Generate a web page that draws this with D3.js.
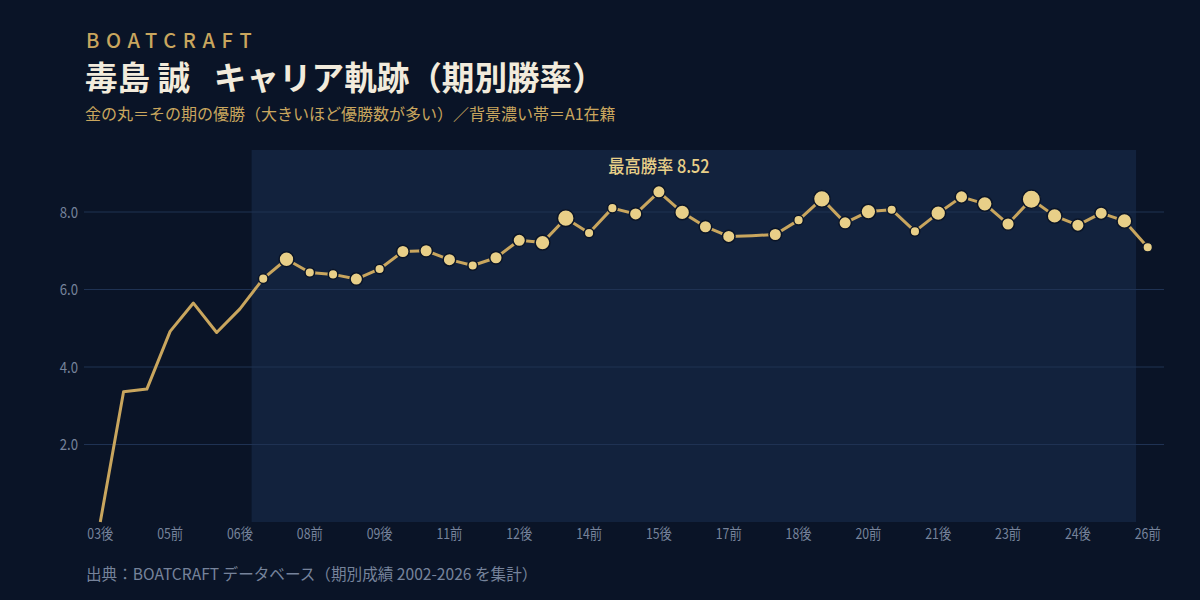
<!DOCTYPE html>
<html>
<head>
<meta charset="utf-8">
<script src="https://cdn.jsdelivr.net/npm/d3@7"></script>
<style>
  html, body { margin: 0; padding: 0; background: #0a1427; }
  svg { display: block; }
  text { font-family: "Noto Sans CJK JP", "Noto Sans", sans-serif; }
</style>
</head>
<body>
<svg id="drawing_region"></svg>
<script>
// 期 (half-year periods), 03後 .. 26前
const periods = ["03後","04前","04後","05前","05後","06前","06後","07前","07後","08前",
                 "08後","09前","09後","10前","10後","11前","11後","12前","12後","13前",
                 "13後","14前","14後","15前","15後","16前","16後","17前","17後","18前",
                 "18後","19前","19後","20前","20後","21前","21後","22前","22後","23前",
                 "23後","24前","24後","25前","25後","26前"];
// 勝率
const winRate = [0.00, 3.36, 3.43, 4.92, 5.65, 4.89, 5.50, 6.28, 6.78, 6.44,
                 6.39, 6.27, 6.53, 6.98, 7.00, 6.77, 6.62, 6.82, 7.27, 7.21,
                 7.84, 7.46, 8.10, 7.95, 8.52, 7.99, 7.62, 7.37, 7.39, 7.42,
                 7.79, 8.34, 7.72, 8.01, 8.06, 7.50, 7.97, 8.39, 8.21, 7.69,
                 8.33, 7.90, 7.66, 7.97, 7.77, 7.09];
// 優勝回数
const titles  = [0, 0, 0, 0, 0, 0, 0, 1, 3, 1,
                 1, 2, 1, 2, 2, 2, 1, 2, 2, 3,
                 4, 1, 1, 2, 2, 3, 2, 2, 0, 2,
                 1, 4, 2, 3, 1, 1, 3, 2, 3, 2,
                 5, 3, 2, 2, 3, 1];
// A1在籍期間
const a1Range = ["07前", "25後"];
const yTicks = [2, 4, 6, 8];
const xTickLabels = ["03後","05前","06後","08前","09後","11前","12後","14前",
                     "15後","17前","18後","20前","21後","23前","24後","26前"];

const data = periods.map((p, i) => ({period: p, rate: winRate[i], wins: titles[i]}));

const width = 1200, height = 600;
const margin = {top: 150, right: 36, bottom: 78, left: 84};

const svg = d3.select("#drawing_region")
    .attr("width", width)
    .attr("height", height);

svg.append("rect")
    .attr("width", width)
    .attr("height", height)
    .attr("fill", "#0a1427");

const x = d3.scalePoint()
    .domain(periods)
    .range([margin.left, width - margin.right])
    .padding(0.7);

const y = d3.scaleLinear()
    .domain([0, 9.6])
    .range([height - margin.bottom, margin.top]);

const r = d3.scaleSqrt()
    .domain([1, 5])
    .range([4.8, 9.2]);

// A1 band
const step = x.step();
svg.append("rect")
    .attr("x", x(a1Range[0]) - step / 2)
    .attr("y", margin.top)
    .attr("width", x(a1Range[1]) - x(a1Range[0]) + step)
    .attr("height", height - margin.bottom - margin.top)
    .attr("fill", "#12223d");

// grid
svg.append("g")
    .selectAll("line")
    .data(yTicks)
    .join("line")
    .attr("x1", margin.left)
    .attr("x2", width - margin.right)
    .attr("y1", d => y(d))
    .attr("y2", d => y(d))
    .attr("stroke", "#1f3253")
    .attr("stroke-width", 1);

// y labels
svg.append("g")
    .selectAll("text")
    .data(yTicks)
    .join("text")
    .attr("transform", d => `translate(78,${y(d) + 5.5}) scale(0.85,1)`)
    .attr("text-anchor", "end")
    .attr("font-size", 15.5)
    .attr("fill", "#76839b")
    .text(d => d.toFixed(1));

// x labels
svg.append("g")
    .selectAll("text")
    .data(xTickLabels)
    .join("text")
    .attr("transform", d => `translate(${x(d)},${height - margin.bottom + 17}) scale(0.82,1)`)
    .attr("text-anchor", "middle")
    .attr("font-size", 15)
    .attr("fill", "#76839b")
    .text(d => d);

// line
const line = d3.line()
    .x(d => x(d.period))
    .y(d => y(d.rate));

svg.append("path")
    .datum(data)
    .attr("d", line)
    .attr("fill", "none")
    .attr("stroke", "#c9a65e")
    .attr("stroke-width", 3)
    .attr("stroke-linejoin", "round");

// 優勝 circles
svg.append("g")
    .selectAll("circle")
    .data(data.filter(d => d.wins > 0))
    .join("circle")
    .attr("cx", d => x(d.period))
    .attr("cy", d => y(d.rate))
    .attr("r", d => r(d.wins))
    .attr("fill", "#e8cf88")
    .attr("stroke", "#0a1427")
    .attr("stroke-width", 1.5);

// best annotation
const best = data.reduce((a, b) => (b.rate > a.rate ? b : a));
svg.append("text")
    .attr("transform", `translate(${x(best.period)},${y(best.rate) - 19}) scale(0.88,1)`)
    .attr("text-anchor", "middle")
    .attr("font-size", 18.5)
    .attr("font-weight", 500)
    .attr("fill", "#e8cf88")
    .text(`最高勝率 ${best.rate.toFixed(2)}`);

// titles
svg.append("text")
    .attr("x", 86)
    .attr("y", 48)
    .attr("font-size", 20)
    .attr("font-weight", 500)
    .attr("letter-spacing", 6.6)
    .attr("fill", "#c9a65e")
    .text("BOATCRAFT");

svg.append("text")
    .attr("x", 85)
    .attr("y", 90)
    .attr("font-size", 32.6)
    .attr("font-weight", "bold")
    .attr("fill", "#f2ebdc")
    .text("毒島 誠\u2002 キャリア軌跡（期別勝率）");

svg.append("text")
    .attr("x", 85)
    .attr("y", 120)
    .attr("font-size", 16)
    .attr("fill", "#c9a65e")
    .text("金の丸＝その期の優勝（大きいほど優勝数が多い）／背景濃い帯＝A1在籍");

svg.append("text")
    .attr("x", 86)
    .attr("y", 580)
    .attr("font-size", 15.6)
    .attr("fill", "#76839b")
    .text("出典：BOATCRAFT データベース（期別成績 2002-2026 を集計）");
</script>
</body>
</html>
